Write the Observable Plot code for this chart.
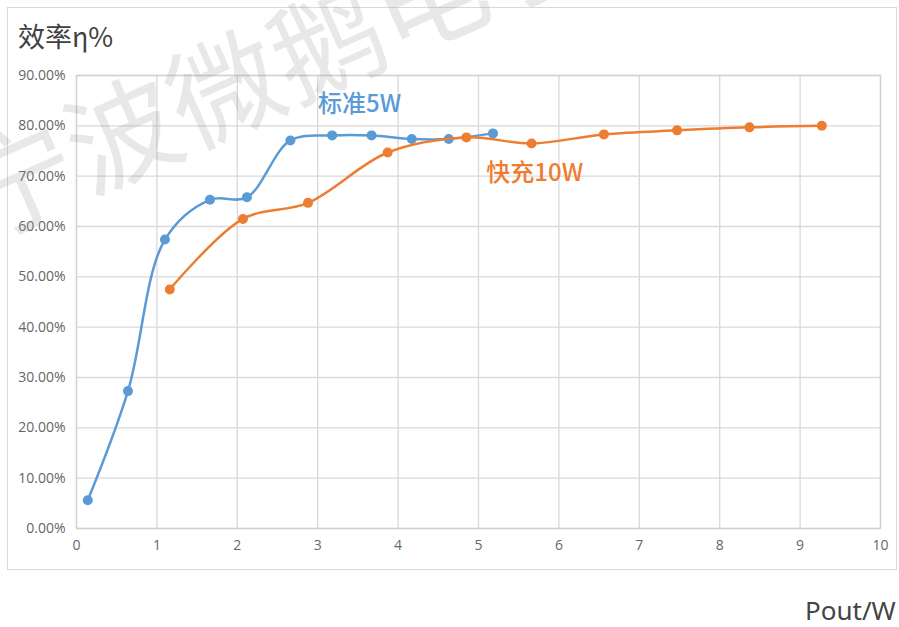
<!DOCTYPE html>
<html>
<head>
<meta charset="utf-8">
<script src="https://cdn.jsdelivr.net/npm/d3@7"></script>
<script src="https://cdn.jsdelivr.net/npm/@observablehq/plot@0.6"></script>
<style>
  html, body { margin: 0; padding: 0; background: #fff; overflow: hidden; }
  #wrap { position: relative; width: 899px; height: 627px; overflow: hidden; }
  #border { position: absolute; left: 7px; top: 7px; width: 888px; height: 561px; border: 1.5px solid #d9d9d9; }
  #title { position: absolute; left: 18px; top: 16px; font: 27px "Noto Sans CJK SC", sans-serif; color: #404040; }
  #xlabel { position: absolute; left: 805px; top: 592px; font: 26px "Noto Sans", sans-serif; color: #444; white-space: nowrap; }
  #chart { position: absolute; left: 0; top: 0; }
  #wm { position: absolute; left: -34px; top: 140px; font: 112px/1 "Noto Sans CJK SC", sans-serif; color: rgba(150,150,150,0.22);
        white-space: nowrap; transform-origin: 0 50%; transform: rotate(-24deg); pointer-events: none; }
</style>
</head>
<body>
<div id="wrap">
  <div id="border"></div>
  <div id="chart"></div>
  <div id="title">效率η%</div>
  <div id="xlabel">Pout/W</div>
  <div id="wm">宁波微鹅电子</div>
</div>
<script>
// 标准5W series
const stdX = [0.14, 0.64, 1.10, 1.66, 2.12, 2.66, 3.18, 3.67, 4.17, 4.63, 5.18];
const stdY = [5.6, 27.3, 57.4, 65.3, 65.8, 77.1, 78.1, 78.1, 77.4, 77.4, 78.5];
// 快充10W series
const fastX = [1.16, 2.07, 2.88, 3.87, 4.85, 5.66, 6.56, 7.47, 8.37, 9.27];
const fastY = [47.5, 61.5, 64.7, 74.7, 77.7, 76.5, 78.3, 79.1, 79.7, 80.0];
// axis ticks
const xTicks = [0, 1, 2, 3, 4, 5, 6, 7, 8, 9, 10];
const yTicks = [0, 10, 20, 30, 40, 50, 60, 70, 80, 90];
// series labels (placed in data space)
const seriesNames = ["标准5W", "快充10W"];
const labelX = [3.52, 5.70];
const labelY = [84.2, 70.6];
const colors = ["#5b9bd5", "#ed7d31"];

const std = stdX.map((x, i) => ({x, y: stdY[i]}));
const fast = fastX.map((x, i) => ({x, y: fastY[i]}));
const labels = seriesNames.map((name, i) => ({name, x: labelX[i], y: labelY[i], color: colors[i]}));

const chart = Plot.plot({
  width: 899,
  height: 627,
  marginLeft: 76,
  marginRight: 19,
  marginTop: 75,
  marginBottom: 99,
  style: {fontFamily: "'Open Sans', sans-serif", fontSize: "14px", color: "#595959", background: "transparent"},
  x: {domain: [0, 10], label: null},
  y: {domain: [0, 90], label: null},
  marks: [
    Plot.gridX(xTicks, {stroke: "#d9d9d9", strokeOpacity: 1, strokeWidth: 1.3}),
    Plot.gridY(yTicks, {stroke: "#d9d9d9", strokeOpacity: 1, strokeWidth: 1.3}),
    Plot.frame({stroke: "#d0d0d0", strokeWidth: 1.3}),
    Plot.axisX({ticks: xTicks, tickSize: 0, tickPadding: 12, fill: "#666", fontSize: 14}),
    Plot.axisY({ticks: yTicks, tickSize: 0, tickPadding: 11, fill: "#666", fontSize: 14,
                tickFormat: d => d.toFixed(2) + "%"}),
    Plot.line(std, {x: "x", y: "y", curve: "catmull-rom", stroke: colors[0], strokeWidth: 2.5}),
    Plot.dot(std, {x: "x", y: "y", r: 5, fill: colors[0], stroke: "none"}),
    Plot.line(fast, {x: "x", y: "y", curve: "catmull-rom", stroke: colors[1], strokeWidth: 2.5}),
    Plot.dot(fast, {x: "x", y: "y", r: 5, fill: colors[1], stroke: "none"}),
    Plot.text(labels, {x: "x", y: "y", text: "name", fill: "color", fontSize: 24, fontWeight: 500,
                       fontFamily: "'Noto Sans CJK SC', sans-serif", textAnchor: "middle"})
  ]
});
document.getElementById("chart").appendChild(chart);
</script>
</body>
</html>
